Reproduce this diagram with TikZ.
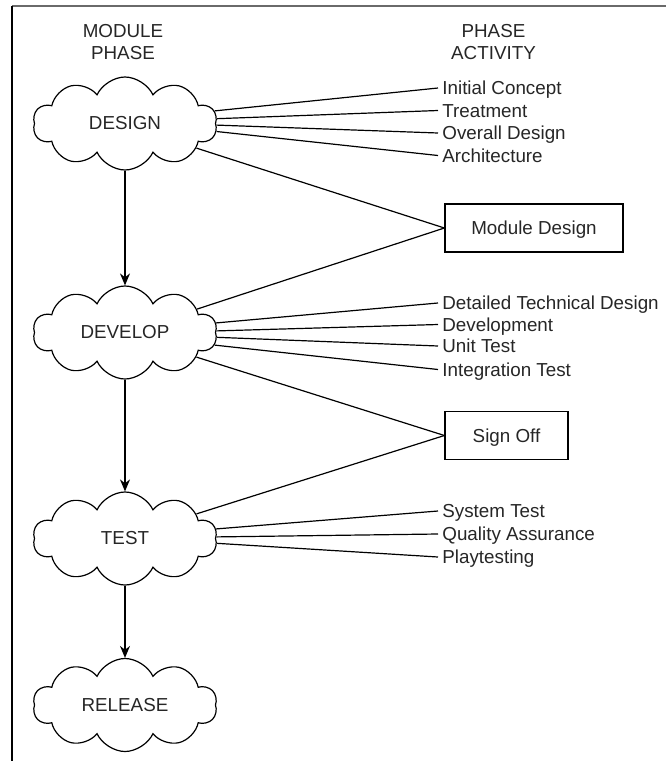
\documentclass[tikz,border=0pt]{standalone}
\usepackage{fontspec}
\setmainfont{Liberation Sans}
\usetikzlibrary{arrows.meta,shapes.symbols}
\definecolor{frame}{HTML}{6A6A6A}
\definecolor{ink}{HTML}{262626}

\begin{document}
\begin{tikzpicture}[x=0.5pt,y=-0.5pt,
  every node/.style={font=\fontsize{9.4}{11.25}\selectfont,text=ink},
  phase/.style={cloud,cloud puffs=10,cloud puff arc=130,aspect=2,draw,line width=0.6pt,
    minimum width=92pt,minimum height=46.5pt,inner sep=0pt},
  act/.style={anchor=west,inner sep=2pt,text height=6.7pt,text depth=0pt},
  gate/.style={draw,line width=0.6pt,minimum height=24pt,text height=6.7pt,text depth=0pt},
  wire/.style={line width=0.6pt},
  flow/.style={line width=0.6pt,-{Stealth[length=6pt,width=5pt]}}]
  \useasboundingbox (0,0) rectangle (666,761);
  \draw[frame,line width=1.1pt] (12,6) -- (666,6);
  \draw[line width=0.7pt] (12,6) -- (12,761);
  % column heads
  \node[align=center] (hmod) at (123,42) {MODULE\\PHASE};
  \node[align=center] (hact) at (493.5,42) {PHASE\\ACTIVITY};
  % phases
  \node[phase] (design) at (125,123.5) {DESIGN};
  \node[phase] (develop) at (125,332.5) {DEVELOP};
  \node[phase] (test) at (125,538.5) {TEST};
  \node[phase] (release) at (125,705) {RELEASE};
  \draw[flow] (design.south) -- (develop.north);
  \draw[flow] (develop.south) -- (test.north);
  \draw[flow] (test.south) -- (release.north);
  % activities
  \node[act] (concept) at (438,88) {Initial Concept};
  \node[act] (treat) at (438,110.5) {Treatment};
  \node[act] (overall) at (438,133) {Overall Design};
  \node[act] (arch) at (438,155.5) {Architecture};
  \node[act] (tech) at (438,303) {Detailed Technical Design};
  \node[act] (devel) at (438,324.5) {Development};
  \node[act] (unit) at (438,346) {Unit Test};
  \node[act] (integ) at (438,369.5) {Integration Test};
  \node[act] (system) at (438,511) {System Test};
  \node[act] (qa) at (438,534) {Quality Assurance};
  \node[act] (play) at (438,557) {Playtesting};
  \node[gate,minimum width=89pt] (moddes) at (534,228) {Module Design};
  \node[gate,minimum width=61.5pt] (signoff) at (506.5,435.5) {Sign Off};
  \draw[wire] (design.8) -- (concept.west);
  \draw[wire] (design.3) -- (treat.west);
  \draw[wire] (design.-1) -- (overall.west);
  \draw[wire] (design.-5) -- (arch.west);
  \draw[wire] (design.-19) -- (moddes.west);
  \draw[wire] (develop.18) -- (moddes.west);
  \draw[wire] (develop.6) -- (tech.west);
  \draw[wire] (develop.1) -- (devel.west);
  \draw[wire] (develop.-3) -- (unit.west);
  \draw[wire] (develop.-8) -- (integ.west);
  \draw[wire] (develop.-19) -- (signoff.west);
  \draw[wire] (test.19) -- (signoff.west);
  \draw[wire] (test.6) -- (system.west);
  \draw[wire] (test.1) -- (qa.west);
  \draw[wire] (test.-3) -- (play.west);
\end{tikzpicture}
\end{document}
